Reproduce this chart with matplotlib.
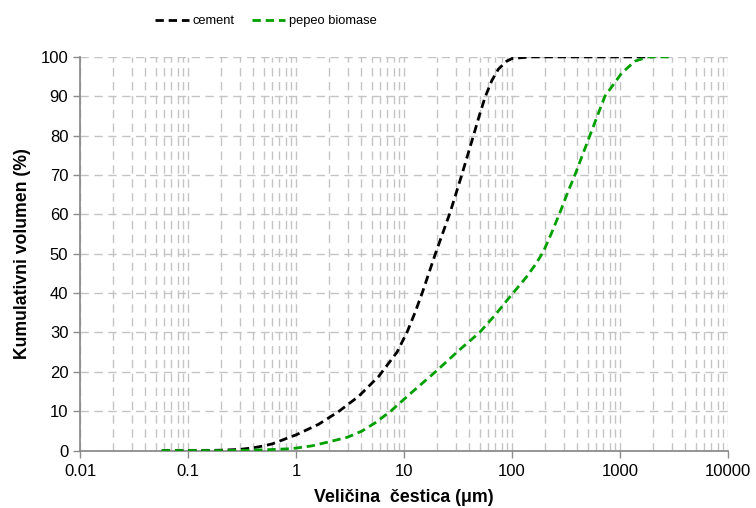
import numpy as np
import matplotlib
matplotlib.use("Agg")
import matplotlib.pyplot as plt
from matplotlib.ticker import LogLocator, FixedLocator, NullFormatter

plt.rcParams['font.family'] = ['Liberation Sans', 'DejaVu Sans']
plt.rcParams['lines.scale_dashes'] = False

# cement - particle size (um) vs cumulative volume (%)
cement_x = [0.057, 0.1, 0.2, 0.3, 0.4, 0.5, 0.6, 0.8, 1.0, 1.62, 2.5, 3.8,
            5.8, 8.6, 10.7, 12.6, 14.7, 19.5, 26.7, 34.2, 43.9, 50.0, 56.3,
            65.0, 74.7, 89.0, 100.0, 150.0, 300.0, 1000.0, 2000.0]
cement_y = [0.0, 0.0, 0.1, 0.3, 0.7, 1.2, 1.7, 3.0, 4.0, 6.7, 10.0, 13.8,
            18.8, 25.0, 30.2, 35.0, 40.0, 50.0, 60.5, 70.0, 80.0, 85.3, 89.8,
            94.0, 96.9, 98.9, 99.6, 100.0, 100.0, 100.0, 100.0]

# pepeo biomase (biomass ash)
ash_x = [0.057, 0.1, 0.2, 0.3, 0.5, 0.7, 0.92, 1.4, 2.0, 3.0, 4.1, 5.5,
         7.5, 11.8, 19.5, 32.0, 50.0, 70.0, 92.5, 135.0, 165.0, 194.5,
         230.0, 278.0, 330.0, 382.0, 525.0, 724.0, 1030.0, 1370.0, 1820.0,
         3000.0]
ash_y = [0.0, 0.0, 0.0, 0.05, 0.2, 0.35, 0.5, 1.2, 2.2, 3.4, 5.0, 7.2,
         10.0, 14.8, 20.0, 25.4, 30.0, 34.5, 38.6, 44.0, 47.3, 50.5,
         55.0, 60.5, 65.8, 70.0, 80.0, 90.0, 95.8, 98.9, 100.0,
         100.0]

x_ticks = [0.01, 0.1, 1, 10, 100, 1000, 10000]
x_labels = ["0.01", "0.1", "1", "10", "100", "1000", "10000"]
y_ticks = list(range(0, 101, 10))

fig = plt.figure(figsize=(7.56, 5.08), dpi=100)
ax = fig.add_axes([0.106, 0.113, 0.857, 0.775])

ax.plot(cement_x, cement_y, color="black", lw=2.0, dashes=(6, 3.5),
        label="cement", zorder=3)
ax.plot(ash_x, ash_y, color="#00a000", lw=2.0, dashes=(6, 3.5),
        label="pepeo biomase", zorder=3)

ax.set_xscale("log")
ax.set_xlim(0.01, 10000)
ax.set_ylim(0, 100)
ax.xaxis.set_major_locator(FixedLocator(x_ticks))
ax.set_xticklabels(x_labels)
ax.xaxis.set_minor_locator(LogLocator(base=10, subs=np.arange(2, 10)))
ax.xaxis.set_minor_formatter(NullFormatter())
ax.set_yticks(y_ticks)

grid_kw = dict(color="#c4c4c4", lw=1.0, dashes=(6, 4))
ax.grid(True, which="major", axis="both", **grid_kw)
ax.grid(True, which="minor", axis="x", **grid_kw)
ax.set_axisbelow(True)

for side in ["top", "right"]:
    ax.spines[side].set_visible(False)
for side in ["left", "bottom"]:
    ax.spines[side].set_color("#8c8c8c")
    ax.spines[side].set_linewidth(1.3)

ax.tick_params(axis="both", which="major", direction="out", length=5,
               width=1, color="#8c8c8c", labelsize=12, labelcolor="black")
ax.tick_params(axis="x", which="minor", length=0)
ax.tick_params(axis="x", pad=5)

ax.set_xlabel("Veličina  čestica (μm)", fontsize=12.8, fontweight="bold",
              labelpad=7)
ax.set_ylabel("Kumulativni volumen (%)", fontsize=12.7, fontweight="bold",
              labelpad=7)

ax.legend(loc="center", bbox_to_anchor=(0.352, 0.958),
          bbox_transform=fig.transFigure, ncol=2, frameon=False,
          fontsize=9.3, handlelength=2.6, handletextpad=0.3,
          columnspacing=1.3)

fig.savefig("out.png", dpi=100)
